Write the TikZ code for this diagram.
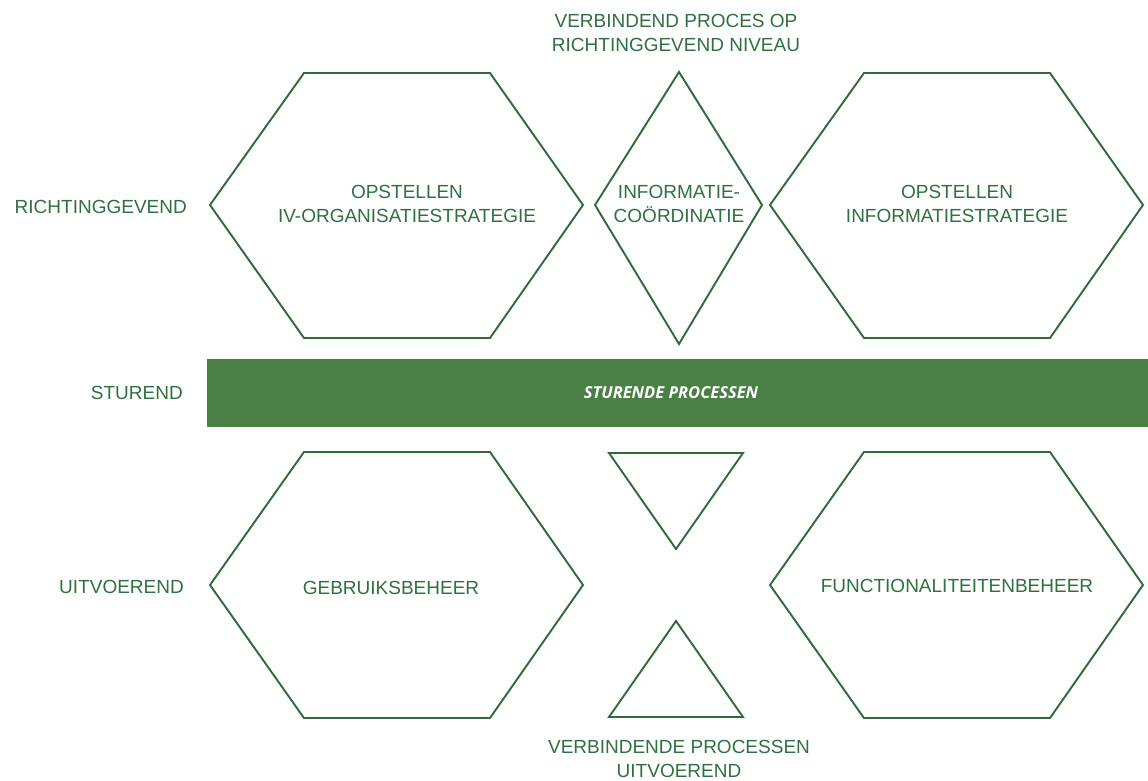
\documentclass[tikz,border=0pt]{standalone}
\usepackage{fontspec}
\setmainfont{Liberation Sans}
\newfontfamily\barfont{Open Sans}
\definecolor{lgreen}{HTML}{2E6B38}
\definecolor{tgreen}{HTML}{2F7040}
\definecolor{bargreen}{HTML}{4A7F45}
\begin{document}
\begin{tikzpicture}[x=1pt,y=-1pt,
  shapeline/.style={draw=lgreen,line width=1.9pt,line join=miter},
  lbl/.style={text=tgreen,font=\fontsize{19}{23.5}\selectfont,align=center,inner sep=0pt},
  sidelbl/.style={text=tgreen,font=\fontsize{19}{23.5}\selectfont,anchor=east,inner sep=0pt}]
\useasboundingbox (0,0) rectangle (1148,781);
% hexagons
\draw[shapeline] (210,205) -- (304,73) -- (490,73) -- (583,205) -- (490,338) -- (304,338) -- cycle;
\draw[shapeline] (770,205) -- (864,73) -- (1050,73) -- (1143,205) -- (1050,338) -- (864,338) -- cycle;
\draw[shapeline] (210,585) -- (304,452) -- (490,452) -- (583,585) -- (490,718) -- (304,718) -- cycle;
\draw[shapeline] (770,585) -- (864,452) -- (1050,452) -- (1143,585) -- (1050,718) -- (864,718) -- cycle;
% diamond
\draw[shapeline] (679,72) -- (762,205) -- (679,344) -- (595,205) -- cycle;
% triangles
\draw[shapeline] (609,453) -- (743,453) -- (676,549) -- cycle;
\draw[shapeline] (676,621) -- (743,717) -- (609,717) -- cycle;
% bar
\fill[bargreen] (207,359) rectangle (1148,427);
\node[text=white,font=\barfont\bfseries\itshape\fontsize{16.5}{19}\selectfont,inner sep=0pt] (bar) at (671,393) {STURENDE PROCESSEN};
% texts
\node[lbl] (top) at (676,33) {VERBINDEND PROCES OP\\RICHTINGGEVEND NIVEAU};
\node[lbl] (h1) at (407,204) {OPSTELLEN\\IV-ORGANISATIESTRATEGIE};
\node[lbl] (dia) at (679,204) {INFORMATIE-\\COÖRDINATIE};
\node[lbl] (h2) at (957,204) {OPSTELLEN\\INFORMATIESTRATEGIE};
\node[lbl] (h3) at (391,588) {GEBRUIKSBEHEER};
\node[lbl] (h4) at (957,586) {FUNCTIONALITEITENBEHEER};
\node[lbl] (bot) at (679,759) {VERBINDENDE PROCESSEN\\UITVOEREND};
\node[sidelbl] (r) at (187,207) {RICHTINGGEVEND};
\node[sidelbl] (s) at (183,393) {STUREND};
\node[sidelbl] (u) at (184,587) {UITVOEREND};
\end{tikzpicture}
\end{document}
